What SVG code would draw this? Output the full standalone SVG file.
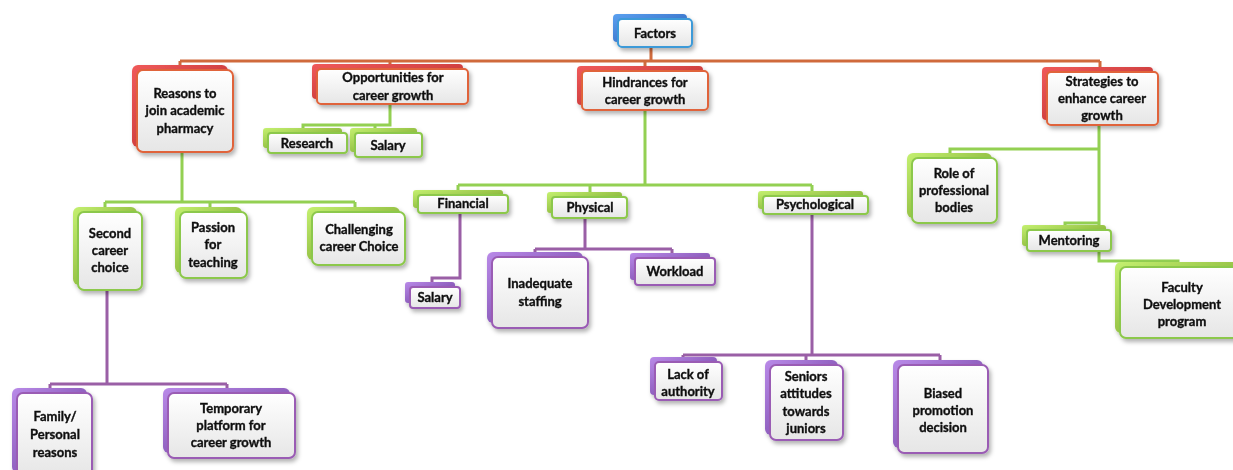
<svg xmlns="http://www.w3.org/2000/svg" width="1233" height="470" viewBox="0 0 1233 470">
<style>
.t{font-family:Lato,"Liberation Sans",sans-serif;font-weight:bold;font-size:13px;fill:#111;stroke:#111;stroke-width:0.35;text-anchor:middle}
.f{fill:url(#gf);stroke-width:2}
.red .f{stroke:#e0643a}.red .b{fill:url(#gr)}
.blue .f{stroke:#3c9ad8}.blue .b{fill:url(#gb)}
.green .f{stroke:#8cc84b}.green .b{fill:url(#gg)}
.purple .f{stroke:#9a5cb4}.purple .b{fill:url(#gp)}
.cn{fill:none;stroke-width:3}
.co{stroke:#d06a3c}.cg{stroke:#93d052}.cp{stroke:#9a5fa6}
</style>
<defs>
<linearGradient id="gf" x1="0" y1="0" x2="0" y2="1"><stop offset="0" stop-color="#ffffff"/><stop offset="1" stop-color="#e6e6e6"/></linearGradient>
<linearGradient id="gr" x1="0" y1="0" x2="1" y2="1"><stop offset="0" stop-color="#f05a5a"/><stop offset="1" stop-color="#b52a2a"/></linearGradient>
<linearGradient id="gb" x1="0" y1="0" x2="1" y2="1"><stop offset="0" stop-color="#5aa0f0"/><stop offset="1" stop-color="#2a5cb5"/></linearGradient>
<linearGradient id="gg" x1="0" y1="0" x2="1" y2="1"><stop offset="0" stop-color="#c4f070"/><stop offset="1" stop-color="#6e9a22"/></linearGradient>
<linearGradient id="gp" x1="0" y1="0" x2="1" y2="1"><stop offset="0" stop-color="#b98ae8"/><stop offset="1" stop-color="#6a3a9a"/></linearGradient>
<filter id="sh" x="-20%" y="-20%" width="150%" height="160%"><feDropShadow dx="2" dy="3" stdDeviation="2" flood-color="#000" flood-opacity="0.3"/></filter>
</defs>
<rect width="1233" height="470" fill="#ffffff"/>

<g id="connectors">
<path class="cn co" d="M651,47 V61 M180,61 H1100 M180,61 V66 M390,61 V64 M645,61 V67 M1100,61 V68"/>
<path class="cn cg" d="M390,103 V125 H303 V129 M375,125 V129"/>
<path class="cn cg" d="M182,152 V202 M105,202 H355 M105,202 V208 M210,202 V208 M355,202 V208"/>
<path class="cn cg" d="M645,110 V185 M458,185 H812 M458,185 V191 M590,185 V193 M812,185 V192"/>
<path class="cn cg" d="M1099,125 V261 H1178 V263 M1099,149 H950 V154 M1099,223 H1065 V226"/>
<path class="cn cp" d="M107,290 V384 M50,384 H227 M50,384 V389 M227,384 V389"/>
<path class="cn cp" d="M460,213 V278 H432 V283"/>
<path class="cn cp" d="M585,218 V249 M535,249 H672 M535,249 V253 M672,249 V254"/>
<path class="cn cp" d="M812,213 V355 M683,355 H940 M683,355 V358 M806,355 V361 M940,355 V361"/>
</g>

<g id="factors" class="blue" filter="url(#sh)"><rect class="b" x="613" y="14" width="74" height="28" rx="4"/><rect class="f" x="618" y="19" width="74" height="28" rx="4"/><text class="t" x="655" y="38">Factors</text></g>

<g id="reasons" class="red" filter="url(#sh)"><rect class="b" x="132" y="65" width="96" height="82" rx="6"/><rect class="f" x="137" y="70" width="96" height="82" rx="6"/><text class="t" x="185" y="97.5">Reasons to</text><text class="t" x="185" y="115">join academic</text><text class="t" x="185" y="132.5">pharmacy</text></g>

<g id="opportunities" class="red" filter="url(#sh)"><rect class="b" x="312" y="64" width="151" height="35" rx="4"/><rect class="f" x="317" y="69" width="151" height="35" rx="4"/><text class="t" x="393" y="82">Opportunities for</text><text class="t" x="393" y="99.5">career growth</text></g>

<g id="hindrances" class="red" filter="url(#sh)"><rect class="b" x="577" y="66" width="126" height="39" rx="4"/><rect class="f" x="582" y="71" width="126" height="39" rx="4"/><text class="t" x="645" y="86.5">Hindrances for</text><text class="t" x="645" y="103.5">career growth</text></g>

<g id="strategies" class="red" filter="url(#sh)"><rect class="b" x="1042" y="67" width="111" height="53" rx="4"/><rect class="f" x="1047" y="72" width="111" height="53" rx="4"/><text class="t" x="1102" y="85.5">Strategies to</text><text class="t" x="1102" y="102.5">enhance career</text><text class="t" x="1102" y="119.5">growth</text></g>

<g id="research" class="green" filter="url(#sh)"><rect class="b" x="263" y="128" width="79" height="20" rx="3"/><rect class="f" x="268" y="133" width="79" height="20" rx="3"/><text class="t" x="307" y="147.5">Research</text></g>

<g id="salary1" class="green" filter="url(#sh)"><rect class="b" x="350" y="128" width="67" height="24" rx="3"/><rect class="f" x="355" y="133" width="67" height="24" rx="3"/><text class="t" x="388" y="149.5">Salary</text></g>

<g id="second" class="green" filter="url(#sh)"><rect class="b" x="73" y="207" width="64" height="78" rx="6"/><rect class="f" x="78" y="212" width="64" height="78" rx="6"/><text class="t" x="110" y="237.5">Second</text><text class="t" x="110" y="254.5">career</text><text class="t" x="110" y="271.5">choice</text></g>

<g id="passion" class="green" filter="url(#sh)"><rect class="b" x="175" y="207" width="67" height="66" rx="6"/><rect class="f" x="180" y="212" width="67" height="66" rx="6"/><text class="t" x="213" y="231.5">Passion</text><text class="t" x="213" y="248.5">for</text><text class="t" x="213" y="266.5">teaching</text></g>

<g id="challenging" class="green" filter="url(#sh)"><rect class="b" x="307" y="207" width="93" height="53" rx="6"/><rect class="f" x="312" y="212" width="93" height="53" rx="6"/><text class="t" x="359" y="233.5">Challenging</text><text class="t" x="359" y="250.5">career Choice</text></g>

<g id="family" class="purple" filter="url(#sh)"><rect class="b" x="12" y="388" width="75" height="85" rx="6"/><rect class="f" x="17" y="393" width="75" height="85" rx="6"/><text class="t" x="55" y="420.5">Family/</text><text class="t" x="55" y="438.5">Personal</text><text class="t" x="55" y="456.5">reasons</text></g>

<g id="temporary" class="purple" filter="url(#sh)"><rect class="b" x="163" y="388" width="127" height="65" rx="6"/><rect class="f" x="168" y="393" width="127" height="65" rx="6"/><text class="t" x="231" y="412.5">Temporary</text><text class="t" x="231" y="429.5">platform for</text><text class="t" x="231" y="446.5">career growth</text></g>

<g id="financial" class="green" filter="url(#sh)"><rect class="b" x="413" y="190" width="90" height="18" rx="3"/><rect class="f" x="418" y="195" width="90" height="18" rx="3"/><text class="t" x="463" y="207.5">Financial</text></g>

<g id="physical" class="green" filter="url(#sh)"><rect class="b" x="547" y="192" width="75" height="21" rx="3"/><rect class="f" x="552" y="197" width="75" height="21" rx="3"/><text class="t" x="590" y="211.5">Physical</text></g>

<g id="psychological" class="green" filter="url(#sh)"><rect class="b" x="758" y="191" width="105" height="18" rx="3"/><rect class="f" x="763" y="196" width="105" height="18" rx="3"/><text class="t" x="815" y="208.5">Psychological</text></g>

<g id="salary2" class="purple" filter="url(#sh)"><rect class="b" x="405" y="282" width="50" height="21" rx="3"/><rect class="f" x="410" y="287" width="50" height="21" rx="3"/><text class="t" x="435" y="301.5">Salary</text></g>

<g id="inadequate" class="purple" filter="url(#sh)"><rect class="b" x="487" y="252" width="96" height="71" rx="6"/><rect class="f" x="492" y="257" width="96" height="71" rx="6"/><text class="t" x="540" y="287.5">Inadequate</text><text class="t" x="540" y="305.5">staffing</text></g>

<g id="workload" class="purple" filter="url(#sh)"><rect class="b" x="630" y="253" width="80" height="27" rx="3"/><rect class="f" x="635" y="258" width="80" height="27" rx="3"/><text class="t" x="675" y="275.5">Workload</text></g>

<g id="lack" class="purple" filter="url(#sh)"><rect class="b" x="650" y="357" width="67" height="38" rx="4"/><rect class="f" x="655" y="362" width="67" height="38" rx="4"/><text class="t" x="688" y="378.5">Lack of</text><text class="t" x="688" y="395.5">authority</text></g>

<g id="seniors" class="purple" filter="url(#sh)"><rect class="b" x="765" y="360" width="73" height="75" rx="6"/><rect class="f" x="770" y="365" width="73" height="75" rx="6"/><text class="t" x="806" y="380.5">Seniors</text><text class="t" x="806" y="397.5">attitudes</text><text class="t" x="806" y="415.5">towards</text><text class="t" x="806" y="432.5">juniors</text></g>

<g id="biased" class="purple" filter="url(#sh)"><rect class="b" x="893" y="360" width="90" height="88" rx="6"/><rect class="f" x="898" y="365" width="90" height="88" rx="6"/><text class="t" x="943" y="397.5">Biased</text><text class="t" x="943" y="414.5">promotion</text><text class="t" x="943" y="431.5">decision</text></g>

<g id="role" class="green" filter="url(#sh)"><rect class="b" x="907" y="153" width="85" height="65" rx="6"/><rect class="f" x="912" y="158" width="85" height="65" rx="6"/><text class="t" x="954" y="177.5">Role of</text><text class="t" x="954" y="194.5">professional</text><text class="t" x="954" y="211.5">bodies</text></g>

<g id="mentoring" class="green" filter="url(#sh)"><rect class="b" x="1022" y="225" width="84" height="21" rx="3"/><rect class="f" x="1027" y="230" width="84" height="21" rx="3"/><text class="t" x="1069" y="244.5">Mentoring</text></g>

<g id="faculty" class="green" filter="url(#sh)"><rect class="b" x="1115" y="262" width="125" height="71" rx="6"/><rect class="f" x="1120" y="267" width="125" height="71" rx="6"/><text class="t" x="1182" y="291.5">Faculty</text><text class="t" x="1182" y="308.5">Development</text><text class="t" x="1182" y="325.5">program</text></g>
</svg>
